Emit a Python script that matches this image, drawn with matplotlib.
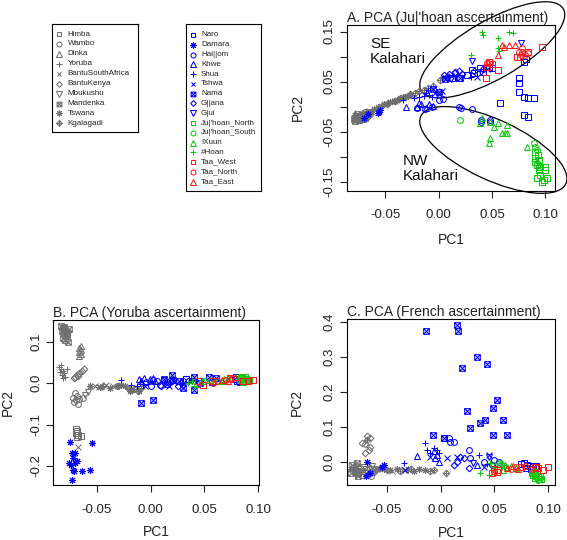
import matplotlib
matplotlib.use("Agg")
import matplotlib.pyplot as plt
from matplotlib.path import Path
from matplotlib.patches import Ellipse
from matplotlib.transforms import ScaledTranslation

plt.rcParams['font.family'] = ['Liberation Sans', 'DejaVu Sans']

# ---------------- legend / population definitions ----------------
GRAY_POPS = ["Himba", "Wambo", "Dinka", "Yoruba", "BantuSouthAfrica", "BantuKenya",
             "Mbukushu", "Mandenka", "Tswana", "Kgalagadi"]
KS_POPS = ["Naro", "Damara", "Hai||om", "Khwe", "Shua", "Tshwa", "Nama", "G||ana", "G|ui",
           "Ju|'hoan_North", "Ju|'hoan_South", "!Xuun", "#Hoan", "Taa_West", "Taa_North", "Taa_East"]

# ---------------- Panel A (Ju|'hoan ascertainment): (PC1, PC2) ----------------
A_HIMBA = [(-0.070,-0.018),(-0.069,-0.022),(-0.071,-0.025),(-0.072,-0.021),(-0.068,-0.019),(-0.074,-0.027)]
A_WAMBO = [(-0.068,-0.015),(-0.067,-0.020),(-0.066,-0.012),(-0.069,-0.011),(-0.067,-0.017),(-0.064,-0.014)]
A_DINKA = [(-0.074,-0.018),(-0.073,-0.024),(-0.072,-0.013),(-0.075,-0.022),(-0.071,-0.020)]
A_YORUBA = [(-0.079,-0.020),(-0.078,-0.026),(-0.077,-0.016),(-0.076,-0.022),(-0.078,-0.012),(-0.075,-0.028),(-0.077,-0.024),(-0.079,-0.017)]
A_BANTU_SA = [(-0.065,-0.009),(-0.062,-0.011),(-0.059,-0.006),(-0.050,0.004),(-0.041,0.011)]
A_BANTU_KENYA = [(-0.072,-0.017),(-0.070,-0.020),(-0.071,-0.014),(-0.073,-0.022),(-0.069,-0.016),(-0.068,-0.012)]
A_MBUKUSHU = [(-0.066,-0.014),(-0.065,-0.010),(-0.064,-0.016),(-0.063,-0.012)]
A_MANDENKA = [(-0.078,-0.022),(-0.077,-0.019),(-0.076,-0.025),(-0.079,-0.024),(-0.075,-0.020),(-0.076,-0.015),(-0.078,-0.028)]
A_TSWANA = [(-0.060,-0.004),(-0.057,-0.001),(-0.054,0.002),(-0.051,0.005),(-0.048,0.006),(-0.045,0.010),(-0.042,0.012),(-0.039,0.014),(-0.036,0.017),(-0.033,0.019),(-0.029,0.022),(-0.026,0.024)]
A_KGALAGADI = [(-0.047,0.008),(-0.041,0.011),(-0.037,0.015),(-0.031,0.020),(-0.027,0.025),(-0.022,0.028),(-0.018,0.031),(-0.014,0.034),(-0.010,0.037),(-0.005,0.042),(0.001,0.053),(0.004,0.058),(0.008,0.060)]
A_NARO = [(0.0125,0.057),(0.019,0.057),(0.027,0.063),(0.031,0.073),(0.033,0.067),(0.039,0.077),(0.042,0.070),(0.047,0.080),(0.050,0.077),(0.075,0.030),(0.075,0.047),(0.075,0.057),(0.080,0.020),(0.084,0.017),(0.089,0.017),(0.058,0.007),(0.080,-0.017),(0.084,-0.020),(0.080,0.090),(0.082,0.095)]
A_DAMARA = [(-0.056,-0.010),(-0.055,-0.007),(-0.070,-0.023),(-0.066,-0.014),(-0.057,-0.012)]
A_HAIOM = [(-0.020,-0.003),(-0.013,-0.004),(-0.006,0.000),(0.000,0.013),(0.004,0.015),(0.019,-0.001),(0.021,-0.002),(0.031,-0.005),(0.040,-0.030),(0.048,-0.030),(0.015,0.068),(0.040,-0.027),(0.048,-0.026)]
A_KHWE = [(-0.030,-0.001),(-0.020,0.000),(-0.016,0.005),(-0.012,-0.002),(-0.009,0.006),(-0.005,0.002),(-0.018,0.007)]
A_SHUA = [(-0.033,0.013),(-0.023,0.017),(-0.018,0.019),(-0.014,0.022),(-0.012,0.028),(-0.010,0.033),(-0.006,0.020),(0.030,0.060),(-0.009,0.024)]
A_TSHWA = [(0.003,0.031),(0.036,0.060),(0.000,0.026),(0.045,0.075),(0.012,0.062),(-0.003,0.028)]
A_NAMA = [(-0.005,0.035),(0.000,0.030),(0.006,0.056),(0.020,0.058)]
A_GLLANA = [(0.005,0.063),(0.010,0.066),(0.015,0.070),(0.019,0.072),(0.022,0.066),(0.042,0.075),(0.033,0.071),(0.008,0.059)]
A_GLUI = [(0.031,0.092),(0.077,0.128),(0.012,0.055),(0.040,0.070)]
A_JUHOAN_N = [(0.0906,-0.090),(0.0906,-0.103),(0.0922,-0.117),(0.0938,-0.127),(0.0953,-0.120),(0.100,-0.120),(0.100,-0.127),(0.1016,-0.143),(0.0984,-0.147),(0.0922,-0.143),(0.097,-0.150),(0.0953,-0.137),(0.0906,-0.110),(0.093,-0.097),(0.094,-0.107)]
A_JUHOAN_S = [(0.0203,-0.027),(0.089,-0.073),(0.0906,-0.080),(0.092,-0.087),(0.092,-0.113),(0.094,-0.120)]
A_XUUN = [(0.0406,-0.023),(0.0516,-0.040),(0.056,-0.033),(0.064,-0.037),(0.0594,-0.052),(0.062,-0.053),(0.064,-0.053),(0.0484,-0.063),(0.047,-0.072),(0.083,-0.080),(0.039,-0.033),(0.048,-0.030)]
A_HOAN = [(0.041,0.150),(0.042,0.143),(0.056,0.137),(0.066,0.150),(0.070,0.147),(0.030,0.103),(0.056,0.117),(0.057,0.112)]
A_TAA_W = [(0.097,0.120),(0.084,0.110),(0.073,0.100),(0.056,0.073),(0.047,0.090),(0.044,0.057),(0.045,0.080),(0.050,0.086),(0.076,0.100)]
A_TAA_N = [(0.078,0.110),(0.084,0.107),(0.081,0.103),(0.077,0.103),(0.075,0.110),(0.048,0.090),(0.045,0.087),(0.078,0.117)]
A_TAA_E = [(0.0594,0.123),(0.0656,0.123),(0.061,0.120),(0.056,0.103),(0.072,0.123)]

# ---------------- Panel B (Yoruba ascertainment) ----------------
B_HIMBA = [(-0.068,-0.115),(-0.069,-0.120),(-0.067,-0.125),(-0.068,-0.130),(-0.065,-0.127),(-0.069,-0.110)]
B_WAMBO = [(-0.070,-0.025),(-0.068,-0.030),(-0.072,-0.035),(-0.069,-0.040),(-0.066,-0.038),(-0.071,-0.045),(-0.067,-0.050),(-0.063,-0.035)]
B_DINKA = [(-0.066,0.085),(-0.065,0.080),(-0.066,0.075),(-0.065,0.070),(-0.066,0.065),(-0.065,0.090)]
B_YORUBA = [(-0.085,0.040),(-0.083,0.035),(-0.081,0.030),(-0.084,0.028),(-0.080,0.025),(-0.082,0.020),(-0.079,0.015),(-0.083,0.044),(-0.081,0.012),(-0.078,0.033)]
B_BANTU_SA = [(-0.067,-0.153),(-0.0515,-0.008),(-0.041,-0.004),(-0.048,-0.010),(-0.035,-0.008)]
B_BANTU_KENYA = [(-0.070,0.015),(-0.068,0.020),(-0.066,0.025),(-0.064,0.030),(-0.062,0.035),(-0.071,0.012),(-0.067,0.018)]
B_MBUKUSHU = [(-0.061,-0.028),(-0.058,-0.022)]
B_MANDENKA = [(-0.083,0.138),(-0.081,0.132),(-0.079,0.128),(-0.082,0.125),(-0.080,0.120),(-0.078,0.115),(-0.081,0.110),(-0.079,0.105),(-0.077,0.100),(-0.080,0.135),(-0.076,0.130),(-0.078,0.122)]
B_TSWANA = [(-0.056,-0.008),(-0.047,-0.010),(-0.038,-0.012),(-0.0315,-0.008),(-0.027,-0.004),(-0.024,-0.008),(-0.018,-0.016),(-0.011,-0.020),(-0.019,-0.020)]
B_KGALAGADI = [(-0.020,-0.015),(-0.015,-0.013),(-0.012,-0.018),(-0.009,-0.012),(-0.030,-0.006),(-0.044,-0.006)]
B_NARO = [(0.078,0.010),(0.080,0.004),(0.082,0.008),(0.079,0.014),(0.083,0.002),(0.045,0.006),(0.033,0.010),(0.057,0.002)]
B_DAMARA = [(-0.0747,-0.141),(-0.073,-0.169),(-0.070,-0.169),(-0.076,-0.193),(-0.074,-0.197),(-0.072,-0.209),(-0.071,-0.213),(-0.068,-0.189),(-0.070,-0.193),(-0.064,-0.213),(-0.056,-0.209),(-0.0546,-0.145),(-0.073,-0.233),(-0.0716,-0.181)]
B_HAIOM = [(0.002,0.008),(0.006,0.004),(0.009,-0.004),(0.012,0.008),(0.000,-0.008),(0.015,0.002),(-0.004,0.003),(0.018,0.006),(0.030,0.006)]
B_KHWE = [(-0.011,0.010),(-0.006,0.012),(-0.001,0.010),(0.004,0.006),(-0.009,0.004),(0.002,0.012)]
B_SHUA = [(-0.027,0.008),(-0.013,-0.008),(-0.007,-0.002),(-0.002,-0.002),(-0.018,-0.004),(-0.010,0.002)]
B_TSHWA = [(0.022,0.002),(0.017,-0.008),(-0.005,-0.006)]
B_NAMA = [(0.0196,0.0198),(0.021,0.008),(0.026,0.004),(0.030,-0.012),(0.040,0.016),(0.040,-0.016),(0.046,0.000),(0.054,0.016),(0.061,0.012),(0.0025,-0.040),(-0.0085,-0.049),(0.015,-0.002),(0.012,0.010)]
B_GLLANA = [(0.010,-0.006),(0.020,0.004),(0.025,-0.006),(0.028,0.000),(0.035,0.004)]
B_GLUI = [(0.030,-0.008),(0.038,0.006)]
B_JUHOAN_N = [(0.083,0.008),(0.085,0.012),(0.087,0.006),(0.089,0.010),(0.084,0.016),(0.090,0.004),(0.086,0.002),(0.088,0.014),(0.091,0.008)]
B_JUHOAN_S = [(0.085,0.009),(0.088,0.005),(0.050,0.006),(0.082,0.011)]
B_XUUN = [(0.049,0.004),(0.055,0.008),(0.066,0.004),(0.072,0.012),(0.060,0.006),(0.068,0.010)]
B_HOAN = [(0.035,0.000),(0.038,0.006),(0.043,-0.010),(0.047,0.002),(0.040,-0.006)]
B_TAA_W = [(0.0443,0.004),(0.049,-0.004),(0.0567,0.004),(0.086,0.004),(0.0953,0.008),(0.074,0.012),(0.090,0.006)]
B_TAA_N = [(0.058,0.001),(0.062,0.006),(0.070,0.008),(0.076,0.010)]
B_TAA_E = [(0.0737,0.012),(0.066,0.007),(0.072,0.004),(0.078,0.014)]

# ---------------- Panel C (French ascertainment) ----------------
C_HIMBA = [(-0.075,-0.020),(-0.073,-0.028),(-0.071,-0.015),(-0.077,-0.033),(-0.069,-0.022),(-0.072,-0.038)]
C_WAMBO = [(-0.070,-0.030),(-0.068,-0.025),(-0.066,-0.018),(-0.064,-0.030),(-0.067,-0.035),(-0.065,-0.040)]
C_DINKA = [(-0.080,-0.010),(-0.078,-0.018),(-0.076,-0.012),(-0.079,-0.025)]
C_YORUBA = [(-0.083,-0.015),(-0.081,-0.020),(-0.082,-0.028),(-0.080,-0.033),(-0.084,-0.022),(-0.079,-0.038)]
C_BANTU_SA = [(-0.062,-0.025),(-0.060,-0.020),(-0.034,-0.024),(-0.045,-0.028)]
C_BANTU_KENYA = [(-0.068,0.072),(-0.066,0.067),(-0.073,0.053),(-0.070,0.051),(-0.066,0.043),(-0.070,0.024),(-0.067,0.033)]
C_MBUKUSHU = [(-0.063,-0.022),(-0.061,-0.030),(-0.064,-0.012)]
C_MANDENKA = [(-0.082,-0.010),(-0.080,-0.028),(-0.078,-0.005),(-0.083,-0.033),(-0.077,-0.040)]
C_TSWANA = [(-0.059,-0.020),(-0.053,-0.022),(-0.047,-0.025),(-0.041,-0.020),(-0.030,-0.022),(-0.025,-0.027),(-0.020,-0.022),(-0.015,-0.025)]
C_KGALAGADI = [(-0.056,-0.018),(-0.050,-0.024),(-0.038,-0.026),(-0.028,-0.020),(-0.010,-0.028),(-0.006,-0.025),(0.005,-0.032),(-0.068,0.062)]
C_NARO = [(0.077,-0.005),(0.080,-0.010),(0.083,-0.012),(0.086,-0.015),(0.089,-0.012),(0.079,-0.018),(0.084,-0.020),(0.075,-0.008),(0.003,0.068)]
C_DAMARA = [(-0.0686,0.000),(-0.069,-0.041),(-0.0547,-0.014),(-0.053,-0.011),(-0.0655,-0.033)]
C_HAIOM = [(0.0075,0.067),(0.0121,0.057),(0.009,0.055),(0.026,0.033),(0.040,0.000),(0.0494,0.005),(0.054,0.000),(0.0276,0.010)]
C_KHWE = [(-0.022,0.017),(-0.0065,0.029),(-0.0019,0.000),(-0.005,0.010),(0.0339,-0.010),(-0.0034,0.019)]
C_SHUA = [(-0.0143,0.053),(-0.0127,0.033),(-0.0034,0.033),(-0.0012,0.026),(-0.0096,0.024),(-0.0345,-0.005),(0.0354,0.019),(0.0432,-0.007),(-0.006,0.038)]
C_TSHWA = [(-0.0096,0.014),(0.0152,0.014),(0.0059,0.010),(0.0447,0.019),(-0.033,-0.024),(0.040,-0.014)]
C_NAMA = [(-0.0137,0.375),(0.0152,0.392),(0.0162,0.373),(0.0199,0.268),(0.0339,0.301),(0.0432,0.280),(0.0525,0.177),(0.0245,0.144),(0.0488,0.155),(0.0581,0.120),(0.0416,0.120),(0.037,0.110),(0.0276,0.096),(0.0488,0.077),(0.0618,0.077),(-0.0071,0.077),(0.0034,0.069)]
C_GLLANA = [(0.0121,-0.010),(0.0152,0.000),(0.0214,0.010),(0.026,-0.019),(0.018,0.014),(0.048,-0.010)]
C_GLUI = [(0.045,0.012),(0.030,-0.005)]
C_JUHOAN_N = [(0.087,-0.030),(0.088,-0.035),(0.089,-0.040),(0.090,-0.045),(0.091,-0.050),(0.088,-0.048),(0.092,-0.042),(0.086,-0.038),(0.093,-0.050),(0.085,-0.032)]
C_JUHOAN_S = [(0.087,-0.028),(0.090,-0.052),(0.050,-0.010),(0.055,-0.005)]
C_XUUN = [(0.050,-0.020),(0.055,-0.008),(0.060,-0.010),(0.062,-0.015),(0.065,-0.012),(0.058,-0.025),(0.070,-0.018)]
C_HOAN = [(0.037,-0.033),(0.045,-0.038),(0.046,-0.005),(0.059,-0.010),(0.056,-0.005),(0.050,-0.015)]
C_TAA_W = [(0.050,-0.020),(0.053,-0.025),(0.052,-0.030),(0.048,-0.033),(0.0742,-0.014),(0.090,-0.019),(0.095,-0.024),(0.100,-0.014),(0.088,-0.014)]
C_TAA_N = [(0.070,-0.015),(0.065,-0.020),(0.078,-0.012),(0.085,-0.020)]
C_TAA_E = [(0.062,-0.018),(0.067,-0.012),(0.072,-0.020),(0.050,-0.028)]

# Tick labels
A_YTICKS = [-0.15, -0.10, -0.05, 0.00, 0.05, 0.10, 0.15]
A_YLABELS = ["-0.15", "", "-0.05", "", "0.05", "", "0.15"]
B_YTICKS = [-0.2, -0.1, 0.0, 0.1]
C_YTICKS = [0.0, 0.1, 0.2, 0.3, 0.4]

# ---------------- styles ----------------
GRAY = '#6f6f6f'
BLUE = '#0000ff'
GREEN = '#11c811'
RED = '#ff1a1a'

SQX = Path([(-1, -1), (1, -1), (1, 1), (-1, 1), (-1, -1), (-1, -1), (1, 1), (-1, 1), (1, -1)],
           [Path.MOVETO, Path.LINETO, Path.LINETO, Path.LINETO, Path.CLOSEPOLY,
            Path.MOVETO, Path.LINETO, Path.MOVETO, Path.LINETO])
DPLUS = Path([(0, 1), (1, 0), (0, -1), (-1, 0), (0, 1), (-1, 0), (1, 0), (0, -1), (0, 1)],
             [Path.MOVETO, Path.LINETO, Path.LINETO, Path.LINETO, Path.CLOSEPOLY,
              Path.MOVETO, Path.LINETO, Path.MOVETO, Path.LINETO])
PCH = {0: ('s', 3.8), 1: ('o', 4.2), 2: ('^', 4.6), 3: ('+', 5.0), 4: ('x', 4.0),
       5: ('D', 3.4), 6: ('v', 4.6), 7: (SQX, 4.0), 8: ((8, 2, 0), 5.0), 9: (DPLUS, 4.8)}

STYLE = {
    "Himba": (0, GRAY), "Wambo": (1, GRAY), "Dinka": (2, GRAY), "Yoruba": (3, GRAY),
    "BantuSouthAfrica": (4, GRAY), "BantuKenya": (5, GRAY), "Mbukushu": (6, GRAY),
    "Mandenka": (7, GRAY), "Tswana": (8, GRAY), "Kgalagadi": (9, GRAY),
    "Naro": (0, BLUE), "Damara": (8, BLUE), "Hai||om": (1, BLUE), "Khwe": (2, BLUE),
    "Shua": (3, BLUE), "Tshwa": (4, BLUE), "Nama": (7, BLUE), "G||ana": (5, BLUE), "G|ui": (6, BLUE),
    "Ju|'hoan_North": (0, GREEN), "Ju|'hoan_South": (1, GREEN), "!Xuun": (2, GREEN), "#Hoan": (3, GREEN),
    "Taa_West": (0, RED), "Taa_North": (1, RED), "Taa_East": (2, RED),
}

PANEL_A = dict(zip(GRAY_POPS + KS_POPS, [A_HIMBA, A_WAMBO, A_DINKA, A_YORUBA, A_BANTU_SA, A_BANTU_KENYA,
               A_MBUKUSHU, A_MANDENKA, A_TSWANA, A_KGALAGADI, A_NARO, A_DAMARA, A_HAIOM, A_KHWE, A_SHUA,
               A_TSHWA, A_NAMA, A_GLLANA, A_GLUI, A_JUHOAN_N, A_JUHOAN_S, A_XUUN, A_HOAN, A_TAA_W, A_TAA_N, A_TAA_E]))
PANEL_B = dict(zip(GRAY_POPS + KS_POPS, [B_HIMBA, B_WAMBO, B_DINKA, B_YORUBA, B_BANTU_SA, B_BANTU_KENYA,
               B_MBUKUSHU, B_MANDENKA, B_TSWANA, B_KGALAGADI, B_NARO, B_DAMARA, B_HAIOM, B_KHWE, B_SHUA,
               B_TSHWA, B_NAMA, B_GLLANA, B_GLUI, B_JUHOAN_N, B_JUHOAN_S, B_XUUN, B_HOAN, B_TAA_W, B_TAA_N, B_TAA_E]))
PANEL_C = dict(zip(GRAY_POPS + KS_POPS, [C_HIMBA, C_WAMBO, C_DINKA, C_YORUBA, C_BANTU_SA, C_BANTU_KENYA,
               C_MBUKUSHU, C_MANDENKA, C_TSWANA, C_KGALAGADI, C_NARO, C_DAMARA, C_HAIOM, C_KHWE, C_SHUA,
               C_TSHWA, C_NAMA, C_GLLANA, C_GLUI, C_JUHOAN_N, C_JUHOAN_S, C_XUUN, C_HOAN, C_TAA_W, C_TAA_N, C_TAA_E]))

W, H = 567, 540
fig = plt.figure(figsize=(W / 100, H / 100), dpi=100)


def px_axes(x0, y0, x1, y1):
    return fig.add_axes([x0 / W, 1 - y1 / H, (x1 - x0) / W, (y1 - y0) / H])


def draw_pop(ax, pts, pop, scale=1.0):
    pch, color = STYLE[pop]
    mk, ms = PCH[pch]
    ax.plot([p[0] for p in pts], [p[1] for p in pts], ls='none', marker=mk, ms=ms * scale,
            mfc='none', mec=color, mew=0.75, clip_on=False)


def style_axes(ax, title, xlim, ylim, yticks, ylabels, ylab_x, xlab_y):
    ax.set_xlim(*xlim)
    ax.set_ylim(*ylim)
    ax.set_xticks([-0.05, 0.00, 0.05, 0.10])
    ax.set_xticklabels(["-0.05", "0.00", "0.05", "0.10"])
    ax.set_yticks(yticks)
    ax.set_yticklabels(ylabels, rotation=90, va='center')
    for s in ax.spines.values():
        s.set_linewidth(0.8)
    ax.tick_params(direction='out', length=5, width=0.8, labelsize=9.5, colors='#222222')
    ax.tick_params(axis='x', pad=8.5)
    ax.tick_params(axis='y', pad=3)
    ax.set_title(title, loc='left', fontsize=10, pad=1.5, color='#222222')
    ax.set_xlabel("PC1", fontsize=10, color='#222222')
    ax.set_ylabel("PC2", fontsize=10, color='#222222')
    ax.xaxis.set_label_coords(0.5, xlab_y)
    ax.yaxis.set_label_coords(ylab_x, 0.5)


def draw_panel(ax, data):
    for pop in GRAY_POPS + KS_POPS:
        draw_pop(ax, data[pop], pop)


# Panel A
axA = px_axes(346.7, 25, 555, 190.7)
draw_panel(axA, PANEL_A)
style_axes(axA, "A. PCA (Ju|'hoan ascertainment)", (-0.0859, 0.109), (-0.168, 0.163),
           A_YTICKS, A_YLABELS, -0.20, -0.258)


def add_ellipse(ax, cx, cy, w_in, h_in, angle):
    tr = fig.dpi_scale_trans + ScaledTranslation(cx, cy, ax.transData)
    ax.add_patch(Ellipse((0, 0), w_in, h_in, angle=angle, fill=False, ec='black', lw=0.9,
                         transform=tr, clip_on=False))


add_ellipse(axA, 0.0503, 0.1134, 1.64, 0.58, 30)
add_ellipse(axA, 0.0513, -0.0866, 1.60, 0.60, -25)
axA.text(-0.0641, 0.0864, "SE\nKalahari", fontsize=11, ha='left', va='baseline', linespacing=1.1,
         color='#111111')
axA.text(-0.0331, -0.1466, "NW\nKalahari", fontsize=11, ha='left', va='baseline', linespacing=1.1,
         color='#111111')

# Panel B
axB = px_axes(53.3, 320, 259.3, 485)
draw_panel(axB, PANEL_B)
style_axes(axB, "B. PCA (Yoruba ascertainment)", (-0.0903, 0.1009), (-0.2459, 0.1524),
           B_YTICKS, ["-0.2", "-0.1", "0.0", "0.1"], -0.185, -0.245)

# Panel C
axC = px_axes(347, 319, 555, 485)
draw_panel(axC, PANEL_C)
style_axes(axC, "C. PCA (French ascertainment)", (-0.087, 0.1062), (-0.067, 0.4086),
           C_YTICKS, ["0.0", "0.1", "0.2", "0.3", "0.4"], -0.205, -0.245)


# Legends
def draw_legend(x0, y0, x1, y1, pops, row0, dy, mx, tx):
    lax = px_axes(x0, y0, x1, y1)
    lax.set_xlim(0, x1 - x0)
    lax.set_ylim(y1 - y0, 0)
    lax.set_xticks([])
    lax.set_yticks([])
    for s in lax.spines.values():
        s.set_linewidth(0.8)
    for i, pop in enumerate(pops):
        y = row0 + i * dy
        draw_pop(lax, [(mx, y)], pop, scale=0.85)
        lax.text(tx, y, pop, va='center', ha='left', fontsize=5.8, color='#222222')


draw_legend(52, 24, 138, 132, GRAY_POPS, 10.0, 9.93, 7.3, 15.5)
draw_legend(186, 24, 261, 191, KS_POPS, 11.0, 9.78, 7.3, 15.0)

fig.savefig("out.png", dpi=100)
